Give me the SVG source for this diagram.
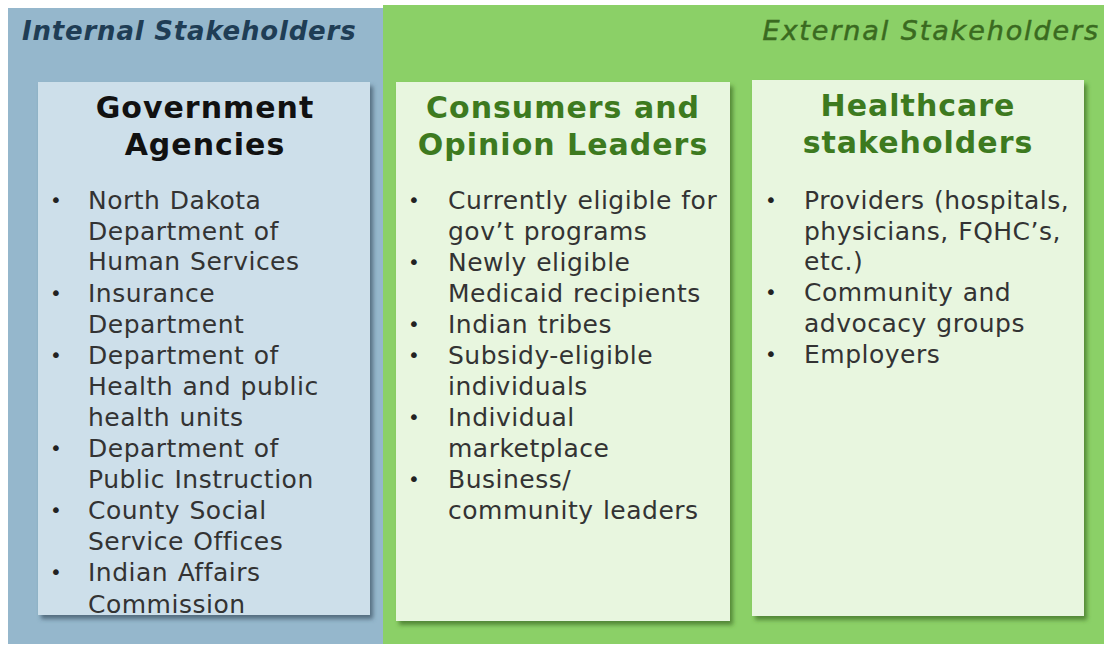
<svg xmlns="http://www.w3.org/2000/svg" width="1104" height="647" viewBox="0 0 1104 647">
  <defs>
    <filter id="shadowBlue" x="-5%" y="-5%" width="115%" height="115%">
      <feDropShadow dx="3" dy="4" stdDeviation="2" flood-color="#3d5566" flood-opacity="0.75"/>
    </filter>
    <filter id="shadowGreen" x="-5%" y="-5%" width="115%" height="115%">
      <feDropShadow dx="3" dy="4" stdDeviation="2" flood-color="#3f6f2a" flood-opacity="0.75"/>
    </filter>
  </defs>
  <style>
    .panel-int { fill: #95b7cc; }
    .panel-ext { fill: #8bd067; }
    .box-int { fill: #cddfea; filter: url(#shadowBlue); }
    .box-ext { fill: #e8f6df; filter: url(#shadowGreen); }
    .group-title { font-family: "DejaVu Sans", Verdana, sans-serif; font-style: italic; }
    .int-title { fill: #1f3d55; font-weight: bold; font-size: 26px; letter-spacing: 0.8px; }
    .ext-title { fill: #3a6a20; stroke: #3a6a20; stroke-width: 0.5px; font-size: 27px; letter-spacing: 1.9px; }
    .head { font-family: "DejaVu Sans", Verdana, sans-serif; font-weight: bold; font-size: 30px; letter-spacing: 1px; text-anchor: middle; }
    .head-int { fill: #111111; }
    .head-ext { fill: #3d7a1f; }
    .item { font-family: "DejaVu Sans", Verdana, sans-serif; font-size: 25px; letter-spacing: 0.5px; word-spacing: 1px; fill: #333333; }
    .bullet { font-family: "DejaVu Sans", Verdana, sans-serif; font-size: 20px; fill: #222222; }
  </style>

  <rect width="1104" height="647" fill="#ffffff"/>

  <!-- group backgrounds -->
  <rect class="panel-int" x="8" y="8" width="376" height="636"/>
  <rect class="panel-ext" x="383" y="5" width="721" height="639"/>
  <text class="group-title int-title" x="22" y="40">Internal Stakeholders</text>
  <text class="group-title ext-title" x="1100" y="40" text-anchor="end">External Stakeholders</text>

  <!-- Government agencies -->
  <g id="government-agencies">
    <rect class="box-int" x="38" y="82" width="332" height="533"/>
    <text class="head head-int" x="205" y="118">Government</text>
    <text class="head head-int" x="205" y="155">Agencies</text>
    <g class="bullet">
      <text x="50" y="207">•</text>
      <text x="50" y="300">•</text>
      <text x="50" y="362">•</text>
      <text x="50" y="455">•</text>
      <text x="50" y="517">•</text>
      <text x="50" y="579">•</text>
    </g>
    <g class="item">
      <text x="88" y="209">North Dakota</text>
      <text x="88" y="240">Department of</text>
      <text x="88" y="270">Human Services</text>
      <text x="88" y="302">Insurance</text>
      <text x="88" y="333">Department</text>
      <text x="88" y="364">Department of</text>
      <text x="88" y="395">Health and public</text>
      <text x="88" y="426">health units</text>
      <text x="88" y="457">Department of</text>
      <text x="88" y="488">Public Instruction</text>
      <text x="88" y="519">County Social</text>
      <text x="88" y="550">Service Offices</text>
      <text x="88" y="581">Indian Affairs</text>
      <text x="88" y="613">Commission</text>
    </g>
  </g>

  <!-- Consumers and opinion leaders -->
  <g id="consumers-opinion-leaders">
    <rect class="box-ext" x="396" y="82" width="334" height="539"/>
    <text class="head head-ext" x="563" y="118">Consumers and</text>
    <text class="head head-ext" x="563" y="155">Opinion Leaders</text>
    <g class="bullet">
      <text x="408" y="207">•</text>
      <text x="408" y="269">•</text>
      <text x="408" y="331">•</text>
      <text x="408" y="362">•</text>
      <text x="408" y="424">•</text>
      <text x="408" y="486">•</text>
    </g>
    <g class="item">
      <text x="448" y="209">Currently eligible for</text>
      <text x="448" y="240">gov’t programs</text>
      <text x="448" y="271">Newly eligible</text>
      <text x="448" y="302">Medicaid recipients</text>
      <text x="448" y="333">Indian tribes</text>
      <text x="448" y="364">Subsidy-eligible</text>
      <text x="448" y="395">individuals</text>
      <text x="448" y="426">Individual</text>
      <text x="448" y="457">marketplace</text>
      <text x="448" y="488">Business/</text>
      <text x="448" y="519">community leaders</text>
    </g>
  </g>

  <!-- Healthcare stakeholders -->
  <g id="healthcare-stakeholders">
    <rect class="box-ext" x="752" y="80" width="332" height="536"/>
    <text class="head head-ext" x="918" y="116">Healthcare</text>
    <text class="head head-ext" x="918" y="153">stakeholders</text>
    <g class="bullet">
      <text x="765" y="207">•</text>
      <text x="765" y="299">•</text>
      <text x="765" y="361">•</text>
    </g>
    <g class="item">
      <text x="804" y="209">Providers (hospitals,</text>
      <text x="804" y="240">physicians, FQHC’s,</text>
      <text x="804" y="270">etc.)</text>
      <text x="804" y="301">Community and</text>
      <text x="804" y="332">advocacy groups</text>
      <text x="804" y="363">Employers</text>
    </g>
  </g>
</svg>
